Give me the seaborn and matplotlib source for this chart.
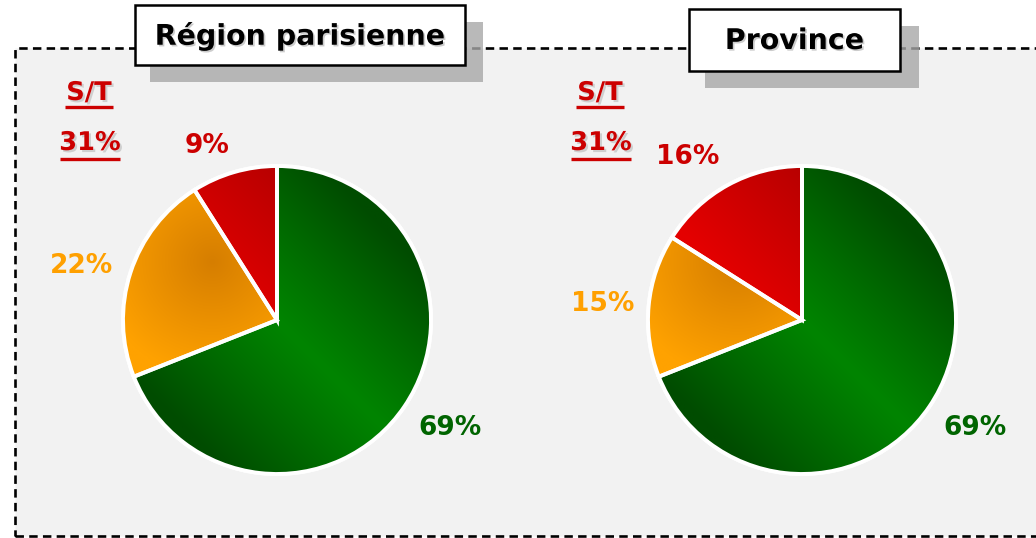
import numpy as np
import matplotlib
matplotlib.use("Agg")
import matplotlib.pyplot as plt
import matplotlib.patheffects as pe
from matplotlib.patches import Rectangle, Wedge
from matplotlib.colors import to_rgb
import seaborn as sns

# data
regions = ["Région parisienne", "Province"]
categories = ["Satisfait", "Moyen", "Insatisfait"]
region_paris = [69, 22, 9]
region_province = [69, 15, 16]
st_values = ["31%", "31%"]

sns.set_theme(style="white")
plt.rcParams["font.family"] = ["DejaVu Sans"]

W, H = 1036, 538
GREEN_TXT = "#006400"
ORANGE_TXT = "#FFA000"
RED_TXT = "#CC0000"


def Y(y):
    # pixel row (top-down) -> data y (bottom-up)
    return H - y


fig = plt.figure(figsize=(W / 100, H / 100), dpi=100)
ax = fig.add_axes([0, 0, 1, 1])
ax.set_xlim(0, W)
ax.set_ylim(0, H)
ax.axis("off")

# dashed frame with light grey fill
ax.add_patch(Rectangle((15, Y(536)), 1100, 488, facecolor="#F2F2F2",
                       edgecolor="black", lw=1.9, ls=(0, (3.2, 2.0)), zorder=0))


def gradient(kind, n=300):
    u, v = np.meshgrid(np.linspace(-1, 1, n), np.linspace(-1, 1, n))
    if kind == 0:    # green: bright band through centre, darker to the corners
        t = np.clip(np.abs(u + v) / 1.3, 0, 1) ** 1.1
        c0, c1 = to_rgb("#008400"), to_rgb("#004C00")
    elif kind == 1:  # orange: darker near centre, bright to the left
        t = np.clip(np.hypot(u + 0.42, v - 0.38) / 0.75, 0, 1)
        c0, c1 = to_rgb("#D67E00"), to_rgb("#FFA200")
    else:            # red: bright lower-left, dark top-right
        t = np.clip((u + v + 0.2) / 1.4, 0, 1)
        c0, c1 = to_rgb("#E40000"), to_rgb("#B00000")
    img = np.empty((n, n, 3))
    for k in range(3):
        img[..., k] = c0[k] + (c1[k] - c0[k]) * t
    return img


def draw_pie(values, cx, cy, r):
    wedges, _ = ax.pie(values, startangle=90, counterclock=False,
                       center=(cx, Y(cy)), radius=r, frame=True,
                       colors=["#007A00", "#F09000", "#D00000"],
                       wedgeprops=dict(edgecolor="white", linewidth=2.8))
    for k, w in enumerate(wedges):
        w.set_zorder(2)
        im = ax.imshow(gradient(k), extent=[cx - r, cx + r, Y(cy) - r, Y(cy) + r],
                       origin="lower", zorder=3, interpolation="bilinear")
        im.set_clip_path(w)
        # white separators on top of the gradient
        ax.add_patch(Wedge(w.center, w.r, w.theta1, w.theta2, facecolor="none",
                           edgecolor="white", linewidth=2.8, zorder=4))


def title_box(text, x0, y0, x1, y1, dx, dy):
    ax.add_patch(Rectangle((x0 + dx, Y(y1 + dy)), x1 - x0 + 3, y1 - y0,
                           facecolor="#A8A8A8", edgecolor="none", alpha=0.8, zorder=5))
    ax.add_patch(Rectangle((x0, Y(y1)), x1 - x0, y1 - y0, facecolor="white",
                           edgecolor="black", lw=1.8, zorder=6))
    ax.text((x0 + x1) / 2, Y((y0 + y1) / 2 + 1), text, ha="center", va="center",
            fontsize=20.5, fontweight="bold", color="black", zorder=7,
            path_effects=[pe.withSimplePatchShadow(offset=(1.2, -1.2),
                                                   shadow_rgbFace="grey", alpha=0.4)])


def st_block(value, x):
    shadow = [pe.withSimplePatchShadow(offset=(1.5, -1.5), shadow_rgbFace="grey", alpha=0.3)]
    ax.text(x, Y(93), "S/T", ha="center", va="center", fontsize=18.5,
            fontweight="bold", color=RED_TXT, zorder=7, path_effects=shadow)
    ax.plot([x - 24, x + 24], [Y(107), Y(107)], color=RED_TXT, lw=2.4,
            solid_capstyle="butt", zorder=7)
    ax.text(x + 1, Y(143), value, ha="center", va="center", fontsize=18.5,
            fontweight="bold", color=RED_TXT, zorder=7, path_effects=shadow)
    ax.plot([x - 29, x + 31], [Y(159), Y(159)], color=RED_TXT, lw=2.4,
            solid_capstyle="butt", zorder=7)


draw_pie(region_paris, 277, 320, 154)
draw_pie(region_province, 802, 320, 154)

title_box(regions[0], 135, 5, 465, 65, 15, 17)
title_box(regions[1], 689, 9, 900, 71, 16, 17)

st_block(st_values[0], 89)
st_block(st_values[1], 600)

label_colors = [GREEN_TXT, ORANGE_TXT, RED_TXT]
paris_pos = [(450, 428), (82, 266), (207, 146)]
prov_pos = [(975, 428), (603, 304), (688, 157)]
for vals, pos in [(region_paris, paris_pos), (region_province, prov_pos)]:
    for v, (px, py), c in zip(vals, pos, label_colors):
        ax.text(px, Y(py), f"{v}%", ha="center", va="center", fontsize=19,
                fontweight="bold", color=c, zorder=7)

ax.set_xlim(0, W)
ax.set_ylim(0, H)
fig.savefig("out.png", dpi=100, facecolor="white")
